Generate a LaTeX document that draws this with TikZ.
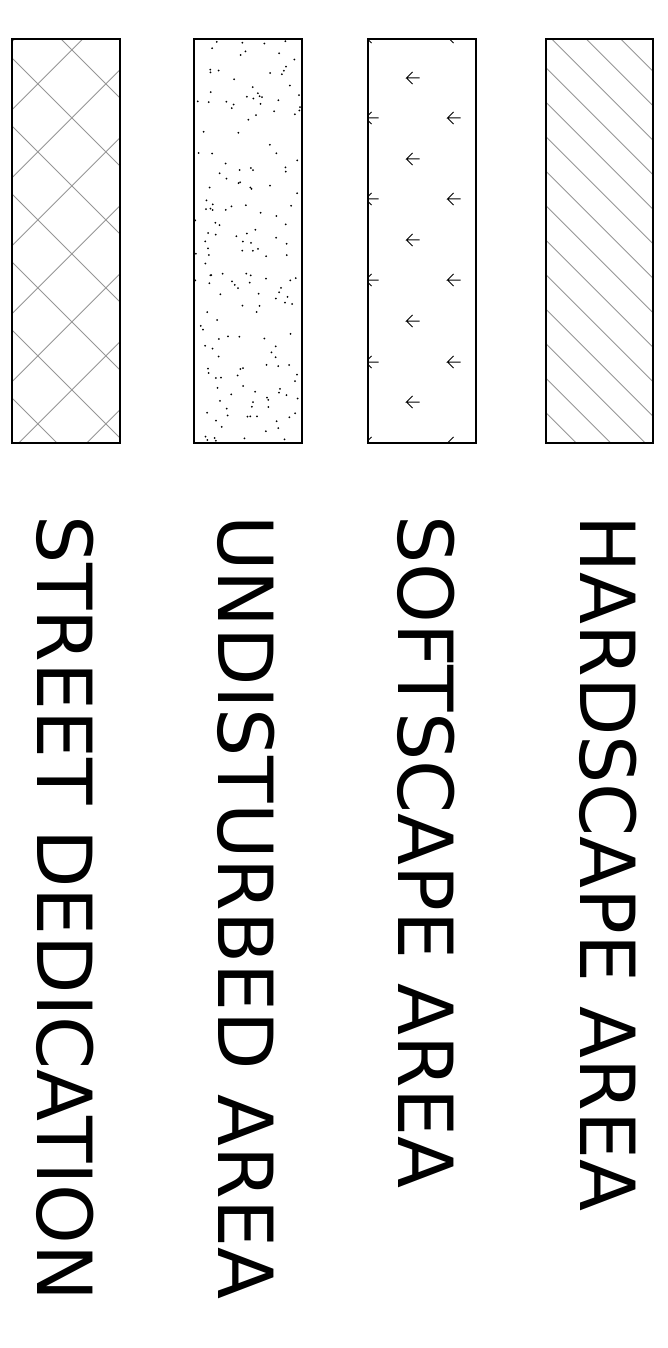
\documentclass[tikz,border=0pt]{standalone}
\usepackage{fontspec}
\setmainfont{DejaVu Sans}
\usepackage{xcolor}
\usetikzlibrary{positioning}
\definecolor{hatchgray}{RGB}{150,150,150}
\newcommand{\softmark}[2]{\draw[arrowmark] (#1+13,#2) -- (#1,#2) -- ++(6,-6) (#1,#2) -- ++(6,6);}

\begin{document}
\begin{tikzpicture}[x=1pt,y=-1pt,
    legendbox/.style={draw=black,line width=1.3pt},
    hatchline/.style={hatchgray,line width=0.8pt},
    arrowmark/.style={black,line width=1pt},
    legendtext/.style={rotate=-90,anchor=base west,inner sep=0pt,font=\fontsize{76}{90}\selectfont}]
    \useasboundingbox (0,0) rectangle (668,1348);

    % street dedication: cross hatch
    \begin{scope}
        \clip (12,39) rectangle (120,443);
        \foreach \k in {-1,...,7} {
            \draw[hatchline] (0,{-22+68*\k}) -- ++(600,600);
            \draw[hatchline] (0,{121.7+68*\k}) -- ++(600,-600);
        }
    \end{scope}

    % undisturbed area: scattered dots
    \pgfmathsetseed{4}
    \foreach \i in {1,...,180} {
        \pgfmathsetmacro\dx{195+106*rnd}
        \pgfmathsetmacro\dy{40+402*rnd}
        \fill[black] (\dx,\dy) circle (1);
    }

    % softscape area: arrow marks
    \begin{scope}
        \clip (368,39) rectangle (476,443);
        \foreach \ay in {37,118,199,280,362,443} {
            \softmark{365.5}{\ay}
            \softmark{447.5}{\ay}
        }
        \foreach \ay in {78,159,240,321,402} {
            \softmark{406.5}{\ay}
        }
    \end{scope}

    % hardscape area: single hatch
    \begin{scope}
        \clip (546,39) rectangle (653,443);
        \foreach \k in {-3,...,12}
            \draw[hatchline] (500,{-12.7+34.5*\k}) -- ++(200,200);
    \end{scope}

    \draw[legendbox] (12,39) rectangle (120,443);
    \draw[legendbox] (194,39) rectangle (302,443);
    \draw[legendbox] (368,39) rectangle (476,443);
    \draw[legendbox] (546,39) rectangle (653,443);

    \node[legendtext] (street) at (37,515) {STREET DEDICATION};
    \node[legendtext] (undisturbed) at (218,515) {UNDISTURBED AREA};
    \node[legendtext] (softscape) at (398,515) {SOFTSCAPE AREA};
    \node[legendtext] (hardscape) at (580,515) {HARDSCAPE AREA};
\end{tikzpicture}
\end{document}
